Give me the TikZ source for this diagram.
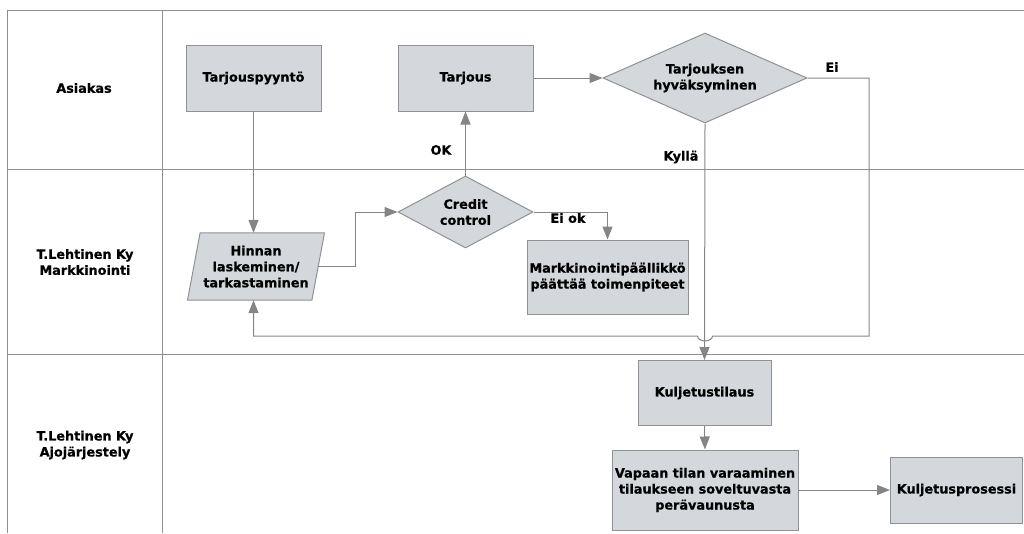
\documentclass[tikz,border=0pt]{standalone}
\usepackage{fontspec}
\setmainfont{DejaVu Sans}[BoldFont={DejaVu Sans Bold},BoldFeatures={FakeBold=0.7}]
\usetikzlibrary{arrows.meta,shapes.geometric}

\definecolor{boxfill}{HTML}{D4D8DC}
\definecolor{boxline}{HTML}{8E9296}
\definecolor{laneline}{HTML}{8E8E8E}
\definecolor{flowline}{HTML}{858585}

\begin{document}
\begin{tikzpicture}[x=1pt,y=-1pt,
  lane/.style={draw=laneline,line width=1pt},
  txt/.style={font=\bfseries\fontsize{12.8}{16}\selectfont,align=center,inner sep=0pt},
  proc/.style={txt,draw=boxline,fill=boxfill,line width=1pt},
  decide/.style={txt,diamond,draw=boxline,fill=boxfill,line width=1pt},
  flow/.style={draw=flowline,line width=1pt,-{Triangle[length=13pt,width=10pt,fill=flowline]}},
  lbl/.style={txt}]

\useasboundingbox (0,0) rectangle (1024,533);

% swimlane grid
\draw[lane] (1024,10) -- (7,10) -- (7,533);
\draw[lane] (162,10) -- (162,533);
\draw[lane] (7,169) -- (1024,169);
\draw[lane] (7,354) -- (1024,354);

% lane titles
\node[lbl] (laneA) at (84,88) {Asiakas};
\node[lbl] (laneM) at (85,262) {T.Lehtinen Ky\\Markkinointi};
\node[lbl] (laneJ) at (85,445) {T.Lehtinen Ky\\Ajojärjestely};

% process steps
\node[proc,minimum width=135,minimum height=66] (pyynto) at (253.5,78) {Tarjouspyyntö};
\node[proc,minimum width=135,minimum height=66] (tarjous) at (465.5,78) {Tarjous};
\node[decide,aspect=2.27,minimum width=204,minimum height=90] (hyvaks) at (705,78) {Tarjouksen\\hyväksyminen};

% price calculation: parallelogram drawn around an empty frame node
\node[inner sep=0pt,minimum width=124,minimum height=67] (hinta) at (256,266.5) {};
\filldraw[fill=boxfill,draw=boxline,line width=1pt]
  ([xshift=-6.3]hinta.south west) -- ([xshift=-6.3]hinta.south east)
  -- ([xshift=6.3]hinta.north east) -- ([xshift=6.3]hinta.north west) -- cycle;
\node[txt] (hintaText) at (hinta) {Hinnan\\laskeminen/\\tarkastaminen};

\node[decide,aspect=1.875,minimum width=135,minimum height=72] (credit) at (465.5,212) {Credit\\control};
\node[proc,minimum width=161,minimum height=74] (paallikko) at (607.5,277) {Markkinointipäällikkö\\päättää toimenpiteet};
\node[proc,minimum width=133,minimum height=65] (tilaus) at (704.5,393) {Kuljetustilaus};
\node[proc,minimum width=186,minimum height=80] (varaus) at (705,490) {Vapaan tilan varaaminen\\tilaukseen soveltuvasta\\perävaunusta};
\node[proc,minimum width=132,minimum height=66] (prosessi) at (956.5,490) {Kuljetusprosessi};

% connectors
\path[flow] (pyynto.south) -- (pyynto.south |- hinta.north);
\path[flow] (hinta.east) -- (355,266.5) |- (credit.west);
\path[flow] (credit.north) -- (tarjous.south);
\path[flow] (credit.east) -| (paallikko.north);
\path[flow] (tarjous.east) -- (hyvaks.west);
\path[flow] (hyvaks.south) -- (tilaus.north);
\path[flow] (tilaus.south) -- (varaus.north);
\path[flow] (varaus.east) -- (prosessi.west);

% rejected offer returns to pricing, hopping over the order line
\coordinate (loopTop) at (869,78);
\coordinate (loopBot) at (869,336);
\path[flow] (hyvaks.east) -- (loopTop) -- (loopBot) -- ([xshift=7.5]hyvaks.south |- loopBot)
  arc[start angle=0,end angle=180,x radius=7.5,y radius=5]
  -- (pyynto.south |- loopBot) -- (pyynto.south |- hinta.south);

% branch labels
\node[lbl] (lblOK) at (441,150) {OK};
\node[lbl] (lblEi) at (832,67) {Ei};
\node[lbl] (lblEiok) at (568,218) {Ei ok};
\node[lbl] (lblKylla) at (681,157) {Kyllä};
\end{tikzpicture}
\end{document}
